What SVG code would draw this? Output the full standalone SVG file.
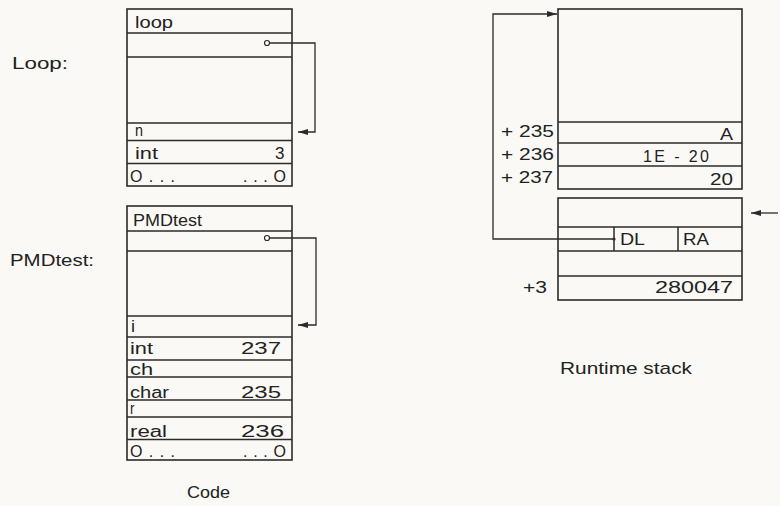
<svg xmlns="http://www.w3.org/2000/svg" width="780" height="506" viewBox="0 0 780 506">
  <style>
    .box { fill: none; stroke: #2b2b2b; stroke-width: 1.6; }
    .ln { stroke: #2b2b2b; stroke-width: 1.5; fill: none; }
    .wire { stroke: #2b2b2b; stroke-width: 1.3; fill: none; }
    .t { font-family: "Liberation Sans", Arial, sans-serif; font-size: 16px; fill: #222; }
    .lbl { font-family: "Liberation Sans", Arial, sans-serif; font-size: 17px; fill: #222; }
    .dot { fill: #fff; stroke: #2b2b2b; stroke-width: 1.2; }
  </style>
  <defs>
    <marker id="ah" viewBox="0 0 10 6" refX="10" refY="3" markerWidth="10" markerHeight="6" markerUnits="userSpaceOnUse" orient="auto">
      <path d="M0,0 L10,3 L0,6 Z" fill="#2b2b2b"/>
    </marker>
  </defs>
  <rect width="780" height="506" fill="#fbf9f6"/>

  <!-- Labels -->
  <text class="lbl" x="12" y="69" textLength="56" lengthAdjust="spacingAndGlyphs">Loop:</text>
  <text class="lbl" x="10" y="266" textLength="84" lengthAdjust="spacingAndGlyphs">PMDtest:</text>
  <text class="lbl" x="187" y="498" textLength="43" lengthAdjust="spacingAndGlyphs">Code</text>
  <text class="lbl" x="560" y="374" textLength="132" lengthAdjust="spacingAndGlyphs">Runtime stack</text>

  <!-- Loop block -->
  <g id="loop">
    <rect class="box" x="127" y="9" width="165" height="177"/>
    <path class="ln" d="M127,33 H292 M127,57 H292 M127,123 H292 M127,140.5 H292 M127,163.5 H292"/>
    <text class="t" x="135" y="28" textLength="38" lengthAdjust="spacingAndGlyphs">loop</text>
    <text class="t" x="135" y="136" textLength="8" lengthAdjust="spacingAndGlyphs">n</text>
    <text class="t" x="135" y="159" textLength="23" lengthAdjust="spacingAndGlyphs">int</text>
    <text class="t" x="275" y="159" textLength="9.5" lengthAdjust="spacingAndGlyphs">3</text>
    <text class="t" x="130" y="182" textLength="45" lengthAdjust="spacing">O...</text>
    <text class="t" x="243" y="182" textLength="43" lengthAdjust="spacing">...O</text>
  </g>

  <!-- PMDtest block -->
  <g id="pmdtest">
    <rect class="box" x="127" y="206" width="165" height="254"/>
    <path class="ln" d="M127,231 H292 M127,251 H292 M127,316 H292 M127,337 H292 M127,360 H292 M127,377 H292 M127,400 H292 M127,417 H292 M127,439.5 H292"/>
    <text class="t" x="133" y="226" textLength="69" lengthAdjust="spacingAndGlyphs">PMDtest</text>
    <text class="t" x="131" y="332" textLength="4" lengthAdjust="spacingAndGlyphs">i</text>
    <text class="t" x="130" y="354" textLength="23" lengthAdjust="spacingAndGlyphs">int</text>
    <text class="t" x="241" y="354" textLength="40" lengthAdjust="spacingAndGlyphs">237</text>
    <text class="t" x="130" y="375" textLength="23" lengthAdjust="spacingAndGlyphs">ch</text>
    <text class="t" x="130" y="398" textLength="39" lengthAdjust="spacingAndGlyphs">char</text>
    <text class="t" x="241" y="398" textLength="40" lengthAdjust="spacingAndGlyphs">235</text>
    <text class="t" x="130" y="414" textLength="4.5" lengthAdjust="spacingAndGlyphs">r</text>
    <text class="t" x="130" y="437" textLength="37" lengthAdjust="spacingAndGlyphs">real</text>
    <text class="t" x="241" y="437" textLength="43" lengthAdjust="spacingAndGlyphs">236</text>
    <text class="t" x="130" y="457" textLength="45" lengthAdjust="spacing">O...</text>
    <text class="t" x="243" y="457" textLength="43" lengthAdjust="spacing">...O</text>
  </g>

  <!-- Runtime stack: upper frame -->
  <g id="stack-frame-1">
    <rect class="box" x="558" y="9" width="184" height="180"/>
    <path class="ln" d="M558,122 H742 M558,143 H742 M558,166 H742"/>
    <text class="t" x="720" y="140" textLength="13" lengthAdjust="spacingAndGlyphs">A</text>
    <text class="t" x="643" y="162" textLength="66" lengthAdjust="spacing">1E - 20</text>
    <text class="t" x="710" y="185" textLength="23" lengthAdjust="spacingAndGlyphs">20</text>
    <text class="lbl" x="501" y="137" textLength="53" lengthAdjust="spacingAndGlyphs">+ 235</text>
    <text class="lbl" x="501" y="160" textLength="53" lengthAdjust="spacingAndGlyphs">+ 236</text>
    <text class="lbl" x="501" y="183" textLength="52" lengthAdjust="spacingAndGlyphs">+ 237</text>
  </g>

  <!-- Runtime stack: lower frame -->
  <g id="stack-frame-2">
    <rect class="box" x="558" y="198" width="184" height="102"/>
    <path class="ln" d="M558,227 H742 M558,251 H742 M558,276 H742 M614,227 V251 M678,227 V251"/>
    <text class="t" x="620" y="245" textLength="25" lengthAdjust="spacingAndGlyphs">DL</text>
    <text class="t" x="683" y="245" textLength="26" lengthAdjust="spacingAndGlyphs">RA</text>
    <text class="t" x="655" y="293" textLength="78" lengthAdjust="spacingAndGlyphs">280047</text>
    <text class="lbl" x="523" y="293" textLength="24" lengthAdjust="spacingAndGlyphs">+3</text>
  </g>

  <!-- Connectors -->
  <g id="connectors">
    <path class="wire" d="M269.5,43 H315 V132 H298" marker-end="url(#ah)"/>
    <circle class="dot" cx="267" cy="43" r="2.5"/>
    <path class="wire" d="M269.5,238 H316 V325 H298" marker-end="url(#ah)"/>
    <circle class="dot" cx="267" cy="238" r="2.5"/>
    <path class="wire" d="M614,239 H493 V14 H557" marker-end="url(#ah)"/>
    <circle cx="614" cy="239" r="1.6" fill="#2b2b2b"/>
    <path class="wire" d="M778,213 H751" marker-end="url(#ah)"/>
  </g>
</svg>
